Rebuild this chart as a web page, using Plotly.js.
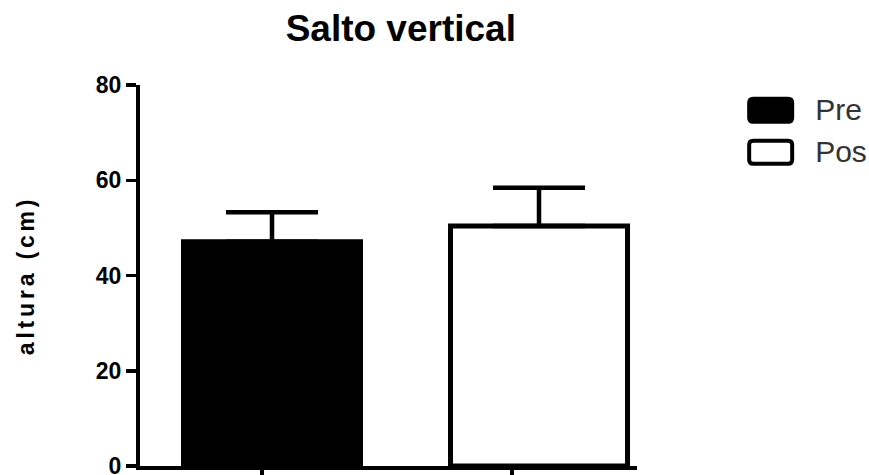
<!DOCTYPE html>
<html>
<head>
<meta charset="utf-8">
<script src="https://cdn.plot.ly/plotly-3.0.1.min.js"></script>
<style>
  html, body { margin: 0; padding: 0; background: #fff; }
  #chart { width: 869px; height: 475px; }
</style>
</head>
<body>
<div id="chart"></div>
<script>
// ---- data ----
const seriesNames = ["Pre", "Pos"];
const barPositions = [1, 2];
const means = [47.1, 50.4];
const errorsUp = [6.2, 8.0];
const errorsDown = [0, 0];
const fillColors = ["#000000", "#ffffff"];
const yTickVals = [0, 20, 40, 60, 80];
const xTickVals = [0.9625, 1.899];
const chartTitle = "Salto vertical";
const yTitle = "altura (cm)";

const traces = seriesNames.map((name, i) => ({
  type: "bar",
  name: name,
  x: [barPositions[i]],
  y: [means[i]],
  width: 0.663,
  marker: { color: fillColors[i], line: { color: "#000000", width: 5 } },
  error_y: {
    type: "data", symmetric: false,
    array: [errorsUp[i]], arrayminus: [errorsDown[i]],
    color: "#000000", thickness: 4.5, width: 46
  },
  hoverinfo: "none",
  legendgroup: name
}));

const layout = {
  width: 869, height: 475,
  margin: { l: 140, r: 232, t: 85, b: 9, autoexpand: false },
  paper_bgcolor: "#ffffff", plot_bgcolor: "#ffffff",
  font: { family: "Liberation Sans, Arial, sans-serif", color: "#000000" },
  barmode: "overlay",
  showlegend: true,
  title: {
    text: "<b>" + chartTitle + "</b>",
    font: { size: 37, color: "#000000", family: "Liberation Sans, Arial, sans-serif" },
    xref: "container", x: 400.8 / 869, xanchor: "center",
    yref: "container", y: 1 - 28 / 475, yanchor: "middle"
  },
  xaxis: {
    range: [0.5056, 2.367],
    showgrid: false, zeroline: false,
    showline: true, linecolor: "#000000", linewidth: 4,
    ticks: "outside", tickvals: xTickVals, ticktext: ["", ""],
    ticklen: 10, tickwidth: 3.5, tickcolor: "#000000",
    showticklabels: false, fixedrange: true
  },
  yaxis: {
    range: [0, 80],
    tickvals: yTickVals,
    showgrid: false, zeroline: false,
    showline: true, linecolor: "#000000", linewidth: 4,
    ticks: "outside", ticklen: 10, tickwidth: 3.5, tickcolor: "#000000",
    tickfont: { size: 23, color: "#000000", weight: "bold" },
    ticklabeloverflow: "allow",
    title: {
      text: "<b>" + yTitle + "</b>",
      font: { size: 23, color: "#000000" },
      standoff: 56
    },
    automargin: false, fixedrange: true
  },
  legend: {
    x: 1.278, xanchor: "left",
    y: 1.008, yanchor: "top",
    font: { size: 30, color: "#333333", family: "Liberation Sans, Arial, sans-serif" },
    bgcolor: "rgba(0,0,0,0)", borderwidth: 0,
    tracegroupgap: 8, traceorder: "normal"
  }
};

Plotly.newPlot("chart", traces, layout, { displayModeBar: false, staticPlot: true }).then(() => {
  // letter spacing for y title
  const yt = document.querySelector(".ytitle");
  if (yt) yt.style.letterSpacing = "3.8px";
  // let legend symbols extend outside the legend clip box
  document.querySelectorAll(".legend [clip-path]").forEach(el => el.removeAttribute("clip-path"));
  document.querySelectorAll(".legend").forEach(el => el.removeAttribute("clip-path"));
  // enlarge legend symbols to match the reference's wide rounded boxes
  document.querySelectorAll(".legend .traces").forEach((g, i) => {
    const txt = g.querySelector(".legendtext");
    const p = g.querySelector(".legendpoints path");
    if (!txt || !p) return;
    const w = 43, h = 23, r = 4;
    const d = `M${-w/2 + r},${-h/2}H${w/2 - r}Q${w/2},${-h/2} ${w/2},${-h/2 + r}V${h/2 - r}Q${w/2},${h/2} ${w/2 - r},${h/2}H${-w/2 + r}Q${-w/2},${h/2} ${-w/2},${h/2 - r}V${-h/2 + r}Q${-w/2},${-h/2} ${-w/2 + r},${-h/2}Z`;
    p.setAttribute("d", d);
    p.setAttribute("transform", "");
    p.style.stroke = "#000000";
    p.style.strokeWidth = "4px";
    p.style.fill = fillColors[i];
    const tr = txt.getBoundingClientRect();
    const pr = p.getBoundingClientRect();
    const wantCx = tr.left - 44.5;
    const wantCy = tr.top + tr.height / 2 + 1;
    const dx = wantCx - (pr.left + pr.width / 2);
    const dy = wantCy - (pr.top + pr.height / 2);
    p.setAttribute("transform", `translate(${dx},${dy})`);
  });
});
</script>
</body>
</html>
